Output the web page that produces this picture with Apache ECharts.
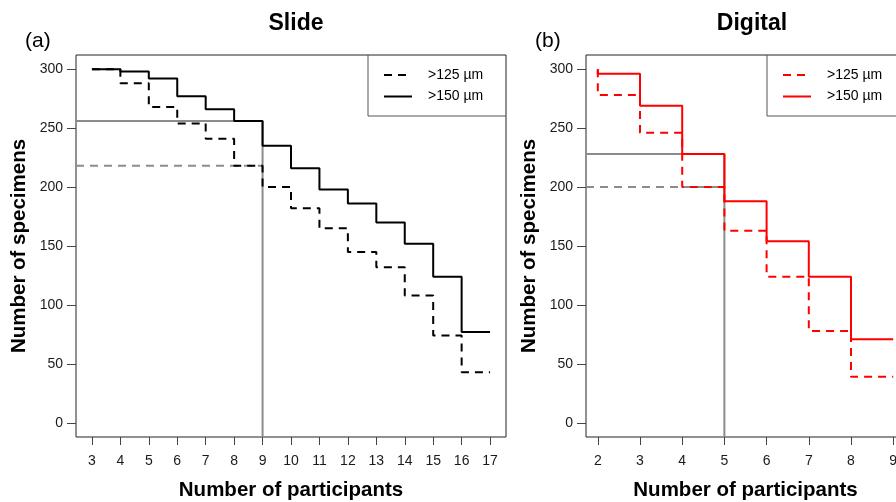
<!DOCTYPE html>
<html>
<head>
<meta charset="utf-8">
<script src="https://cdn.jsdelivr.net/npm/echarts@6/dist/echarts.min.js"></script>
<style>
  html, body { margin: 0; padding: 0; background: #fff; }
  #chart { width: 896px; height: 502px; }
</style>
</head>
<body>
<div id="chart"></div>
<script>
// ---- data -------------------------------------------------------------
// Step curves are drawn "vertical first": the value at x[i] is the level
// held between x[i-1] and x[i]; the first value is the starting level.
const slideParticipants = [3, 4, 5, 6, 7, 8, 9, 10, 11, 12, 13, 14, 15, 16, 17];
const slideOver125 = [300, 300, 288, 268, 254, 241, 218, 200, 182, 165, 145, 132, 108, 74, 43];
const slideOver150 = [300, 300, 298, 292, 277, 266, 256, 235, 216, 198, 186, 170, 152, 124, 77];

const digitalParticipants = [2, 3, 4, 5, 6, 7, 8, 9];
const digitalOver125 = [300, 278, 246, 200, 163, 124, 78, 39];
const digitalOver150 = [300, 296, 269, 228, 188, 154, 124, 71];

// participant count highlighted by the grey guide lines
const slideCutoff = 9;
const digitalCutoff = 5;

const yTicks = [0, 50, 100, 150, 200, 250, 300];
const sizeClasses = ['>125 µm', '>150 µm'];
const panelTitles = ['Slide', 'Digital'];
const panelLetters = ['(a)', '(b)'];
const xTitle = 'Number of participants';
const yTitle = 'Number of specimens';

// ---- helpers ----------------------------------------------------------
const FONT = "'Liberation Sans', Arial, Helvetica, sans-serif";
const pad = (lo, hi) => [lo - (hi - lo) * 0.04, hi + (hi - lo) * 0.04];

const slideX = pad(Math.min(...slideParticipants), Math.max(...slideParticipants));
const digitalX = pad(Math.min(...digitalParticipants), Math.max(...digitalParticipants));
const yRange = pad(Math.min(...yTicks), Math.max(...yTicks));

const pairs = (xs, ys) => xs.map((x, i) => [x, ys[i]]);
const levelAt = (xs, ys, x) => ys[xs.indexOf(x)];

// panel geometry (pixels); the right panel runs past the canvas edge
const TOP = 55, HEIGHT = 382;
const panels = [
  { left: 76, width: 430 },
  { left: 586, width: 319 }
];
const LEGEND_W = 138, LEGEND_H = 61;

const GREY = '#8c8c8c';
const DASH = [8, 6];

function xAxisFor(i, range, ticks) {
  return {
    type: 'value', gridIndex: i, min: range[0], max: range[1],
    axisLine: { show: false, onZero: false },
    splitLine: { show: false },
    axisTick: { show: true, inside: false, length: 8, customValues: ticks,
                lineStyle: { color: '#444', width: 1 } },
    axisLabel: { customValues: ticks, margin: 17, color: '#1a1a1a',
                 fontSize: 14, fontFamily: FONT },
    name: xTitle, nameLocation: 'middle', nameGap: 43,
    nameTextStyle: { fontSize: 20.5, fontWeight: 'bold', color: '#000', fontFamily: FONT }
  };
}
function yAxisFor(i) {
  return {
    type: 'value', gridIndex: i, min: yRange[0], max: yRange[1],
    axisLine: { show: false, onZero: false },
    splitLine: { show: false },
    axisTick: { show: true, inside: false, length: 9, customValues: yTicks,
                lineStyle: { color: '#444', width: 1 } },
    axisLabel: { customValues: yTicks, margin: 13, color: '#1a1a1a',
                 fontSize: 14, fontFamily: FONT },
    name: yTitle, nameLocation: 'middle', nameGap: 46, nameRotate: 90,
    nameTextStyle: { fontSize: 20.5, fontWeight: 'bold', color: '#000', fontFamily: FONT }
  };
}

function guideSeries(i, xs, y125, y150, cutoff, xr) {
  const l150 = levelAt(xs, y150, cutoff);
  const l125 = levelAt(xs, y125, cutoff);
  return [
    { type: 'line', xAxisIndex: i, yAxisIndex: i, symbol: 'none', silent: true, z: 1,
      data: [[xr[0], l150], [cutoff, l150], [cutoff, yRange[0]]],
      lineStyle: { color: GREY, width: 2 } },
    { type: 'line', xAxisIndex: i, yAxisIndex: i, symbol: 'none', silent: true, z: 1,
      data: [[xr[0], l125], [cutoff, l125]],
      lineStyle: { color: GREY, width: 2, type: DASH } }
  ];
}
function stepSeries(i, prefix, xs, ys, color, dashed, sizeName) {
  return {
    name: prefix + ' ' + sizeName,
    type: 'line', xAxisIndex: i, yAxisIndex: i, symbol: 'none', step: 'start', z: 3,
    data: pairs(xs, ys),
    lineStyle: { color: color, width: 2, type: dashed ? DASH : 'solid' },
    itemStyle: { color: color }
  };
}

const series = [
  ...guideSeries(0, slideParticipants, slideOver125, slideOver150, slideCutoff, slideX),
  stepSeries(0, panelTitles[0], slideParticipants, slideOver125, '#000', true, sizeClasses[0]),
  stepSeries(0, panelTitles[0], slideParticipants, slideOver150, '#000', false, sizeClasses[1]),
  ...guideSeries(1, digitalParticipants, digitalOver125, digitalOver150, digitalCutoff, digitalX),
  stepSeries(1, panelTitles[1], digitalParticipants, digitalOver125, '#ff0000', true, sizeClasses[0]),
  stepSeries(1, panelTitles[1], digitalParticipants, digitalOver150, '#ff0000', false, sizeClasses[1])
];

function legendFor(i) {
  const p = panels[i];
  const boxLeft = p.left + p.width - LEGEND_W;
  return {
    orient: 'vertical', left: boxLeft + 15, top: 68, padding: 0,
    itemWidth: 28, itemHeight: 14, itemGap: 7.5, selectedMode: false,
    itemStyle: { opacity: 0 },
    data: sizeClasses.map(s => panelTitles[i] + ' ' + s),
    formatter: name => name.slice(panelTitles[i].length + 1),
    textStyle: { fontSize: 14, color: '#000', fontFamily: FONT, padding: [0, 0, 0, 11] }
  };
}
// legend frames: left and bottom edges (top/right coincide with the plot frame)
function legendFrame(i) {
  const p = panels[i];
  const x0 = p.left + p.width - LEGEND_W;
  return {
    type: 'polyline', silent: true, z: 10,
    shape: { points: [[x0, TOP], [x0, TOP + LEGEND_H], [p.left + p.width, TOP + LEGEND_H]] },
    style: { stroke: '#555', lineWidth: 1, fill: null }
  };
}

const option = {
  animation: false,
  backgroundColor: '#fff',
  textStyle: { fontFamily: FONT },
  title: [
    { text: panelTitles[0], left: 296, top: 12, textAlign: 'center', padding: 0,
      textStyle: { fontSize: 23, fontWeight: 'bold', color: '#000', fontFamily: FONT } },
    { text: panelTitles[1], left: 752, top: 12, textAlign: 'center', padding: 0,
      textStyle: { fontSize: 23, fontWeight: 'bold', color: '#000', fontFamily: FONT } },
    { text: panelLetters[0], left: 25, top: 31, padding: 0,
      textStyle: { fontSize: 21, fontWeight: 'normal', color: '#000', fontFamily: FONT } },
    { text: panelLetters[1], left: 535, top: 31, padding: 0,
      textStyle: { fontSize: 21, fontWeight: 'normal', color: '#000', fontFamily: FONT } }
  ],
  grid: panels.map(p => ({
    left: p.left, top: TOP, width: p.width, height: HEIGHT,
    outerBoundsMode: 'none', containLabel: false,
    show: true, borderColor: '#222', borderWidth: 1, backgroundColor: 'transparent'
  })),
  xAxis: [
    xAxisFor(0, slideX, slideParticipants),
    xAxisFor(1, digitalX, digitalParticipants)
  ],
  yAxis: [yAxisFor(0), yAxisFor(1)],
  legend: [legendFor(0), legendFor(1)],
  graphic: [legendFrame(0), legendFrame(1)],
  series: series
};

const chart = echarts.init(document.getElementById('chart'), null, { renderer: 'canvas' });
chart.setOption(option);
</script>
</body>
</html>
